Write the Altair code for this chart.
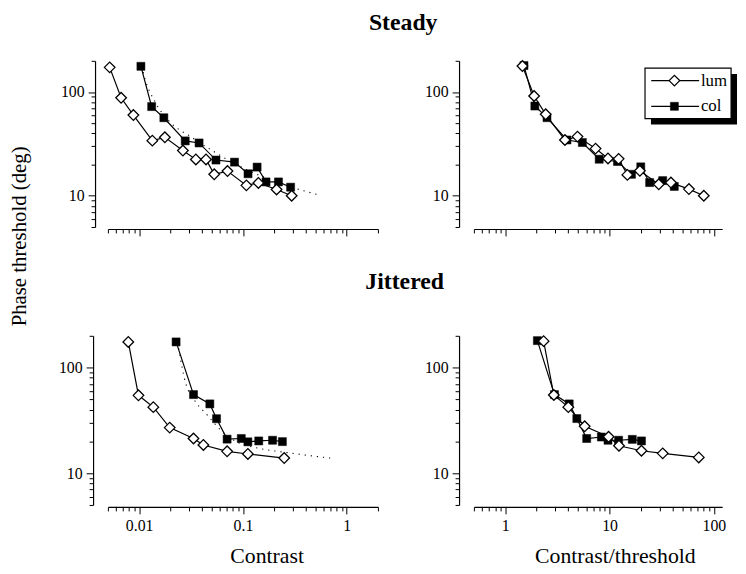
import altair as alt
import pandas as pd

# ---------------- data ----------------
# Steady, threshold vs contrast
lum_steady_c = [0.0052, 0.0067, 0.0088, 0.0134, 0.0177, 0.0264, 0.0352, 0.0441, 0.0529, 0.071, 0.108, 0.141, 0.211, 0.295]
lum_steady_p = [173, 88, 60, 34, 36.6, 27.3, 22.4, 22.4, 16.1, 17.3, 12.6, 13.3, 11.5, 10.0]
col_steady_c = [0.0104, 0.0132, 0.0173, 0.0278, 0.0378, 0.055, 0.083, 0.112, 0.137, 0.167, 0.220, 0.288]
col_steady_p = [177, 72.4, 56.5, 33.8, 32.3, 22.1, 21.1, 16.3, 18.9, 13.6, 13.6, 12.1]
fit_steady_c = [0.0106, 0.0112, 0.0144, 0.0193, 0.0322, 0.0537, 0.0964, 0.2, 0.557]
fit_steady_p = [178, 142, 79, 52.8, 36.6, 26.3, 18.9, 13.8, 10.1]

# Steady, threshold vs contrast/threshold
lum_steady_ct = [1.46, 1.89, 2.44, 3.73, 4.92, 7.33, 9.65, 12.2, 14.8, 19.5, 29.6, 38.7, 57.6, 80]
lum_steady_pt = [178, 91.6, 61, 34.5, 37.2, 28.5, 22.9, 22.7, 15.9, 17.4, 12.9, 13.4, 11.6, 10.0]
col_steady_ct = [1.51, 1.92, 2.51, 3.9, 5.48, 7.95, 11.9, 16.2, 19.9, 24.2, 32.3, 41.7]
col_steady_pt = [180, 73.3, 56.6, 34.5, 32.6, 22.5, 21.4, 16.1, 19.0, 13.4, 14.0, 12.3]

# Jittered, threshold vs contrast
lum_jit_c = [0.00786, 0.00985, 0.0137, 0.0197, 0.0334, 0.0416, 0.0704, 0.1116, 0.25]
lum_jit_p = [175, 54.6, 42.2, 27, 21.3, 18.5, 16.1, 15.2, 13.9]
col_jit_c = [0.0227, 0.0334, 0.048, 0.0557, 0.0704, 0.0964, 0.1116, 0.142, 0.193, 0.24]
col_jit_p = [175, 55.5, 45.3, 32.8, 21, 21.3, 19.8, 20.2, 20.5, 19.9]
fit_jit_c = [0.024, 0.0278, 0.0347, 0.0448, 0.0622, 0.0896, 0.139, 0.289, 0.694]
fit_jit_p = [152, 73.9, 48, 36, 25.1, 19.5, 17.3, 15.5, 13.9]

# Jittered, threshold vs contrast/threshold
lum_jit_ct = [2.33, 2.92, 4.02, 5.77, 9.78, 12.3, 20.2, 32.3, 71.6]
lum_jit_pt = [178, 55, 42.2, 27.8, 22.1, 18.2, 16.3, 15.4, 14.1]
col_jit_ct = [2.03, 2.96, 4.1, 4.85, 6.03, 8.34, 9.65, 12.2, 16.5, 20.2]
col_jit_pt = [180, 55.5, 45.3, 32.9, 21.3, 22, 20.5, 20.5, 20.9, 20.2]

# axes
contrast_domain = [0.005, 2]
ratio_domain = [0.5, 120]
phase_domain = [5, 200]
contrast_labels = [0.01, 0.1, 1]
ratio_labels = [1, 10, 100]
phase_labels = [10, 100]
legend_labels = ["lum", "col"]
row_titles = ["Steady", "Jittered"]
y_title = "Phase threshold (deg)"
x_titles = ["Contrast", "Contrast/threshold"]

FONT = "Liberation Serif"


def log_ticks(lo, hi):
    vals = []
    for e in range(-4, 4):
        for m in range(1, 10):
            v = round(m * 10.0 ** e, 8)
            if lo - 1e-12 <= v <= hi + 1e-12:
                vals.append(v)
    return vals


def make_axis(values, decades, show_labels, offset):
    test = "indexof([%s], datum.value) >= 0" % ",".join(repr(d) for d in decades)
    kw = dict(
        values=values, offset=offset, grid=False, title=None,
        domainColor="black", domainWidth=1.2, tickColor="black", tickWidth=1,
        tickSize={"condition": {"test": test, "value": 7}, "value": 4},
        labels=show_labels, labelFont=FONT, labelFontSize=16, labelColor="black",
        labelPadding=4, labelOverlap=False, labelFlush=False,
    )
    if show_labels:
        kw["labelExpr"] = "%s ? format(datum.value, '~g') : ''" % test
    return alt.Axis(**kw)


def one():
    return alt.Chart(pd.DataFrame({"k": [0]}))


def text_layer(txt, x, y, size, bold=False, angle=0, align="center", baseline="alphabetic"):
    kw = dict(text=txt, font=FONT, fontSize=size, color="black", align=align, baseline=baseline)
    if bold:
        kw["fontWeight"] = "bold"
    if angle:
        kw["angle"] = angle
    return one().mark_text(**kw).encode(x=alt.value(x), y=alt.value(y))


def panel(lum_x, lum_y, col_x, col_y, fit_x, fit_y, xdomain, xdecades,
          show_xlabels, yoffset, xoffset, width, height, extras):
    rows = []
    for s, xs, ys in (("fit", fit_x, fit_y), ("col", col_x, col_y), ("lum", lum_x, lum_y)):
        for i, (a, b) in enumerate(zip(xs, ys)):
            rows.append({"s": s, "i": i, "x": a, "y": b})
    df = pd.DataFrame(rows)
    x_enc = alt.X("x:Q", scale=alt.Scale(type="log", domain=xdomain, nice=False),
                  axis=make_axis(log_ticks(*xdomain), xdecades, show_xlabels, xoffset))
    y_enc = alt.Y("y:Q", scale=alt.Scale(type="log", domain=phase_domain, nice=False),
                  axis=make_axis(log_ticks(*phase_domain), phase_labels, True, yoffset))
    base = alt.Chart(df).encode(x=x_enc, y=y_enc, order="i:Q")
    layers = []
    if fit_x:
        layers.append(base.transform_filter("datum.s == 'fit'").mark_line(
            color="black", strokeWidth=1.1, strokeDash=[1.2, 5], interpolate="monotone"))
    layers.append(base.transform_filter("datum.s == 'col'").mark_line(color="black", strokeWidth=1.2))
    layers.append(base.transform_filter("datum.s == 'col'").mark_point(
        shape="square", filled=True, fill="black", stroke="black", strokeWidth=0.5, size=66, opacity=1))
    layers.append(base.transform_filter("datum.s == 'lum'").mark_line(color="black", strokeWidth=1.2))
    layers.append(base.transform_filter("datum.s == 'lum'").mark_point(
        shape="diamond", filled=True, fill="white", stroke="black", strokeWidth=1.3, size=115, opacity=1))
    layers += extras
    return alt.layer(*layers).properties(width=width, height=height)


tl_extras = [
    text_layer(row_titles[0], 298.5, -31.6, 24, bold=True),
    text_layer(y_title, -88.5, 177.5, 21, angle=270, baseline="middle"),
]

legend = [
    one().mark_rect(fill="black").encode(x=alt.value(179), x2=alt.value(266), y=alt.value(13.4), y2=alt.value(64.4)),
    one().mark_rect(fill="white", stroke="black", strokeWidth=1.2).encode(
        x=alt.value(173), x2=alt.value(260), y=alt.value(7.4), y2=alt.value(58.4)),
    one().mark_rule(color="black", strokeWidth=1.2).encode(x=alt.value(179.3), x2=alt.value(227.7), y=alt.value(20)),
    one().mark_rule(color="black", strokeWidth=1.2).encode(x=alt.value(179.3), x2=alt.value(227.7), y=alt.value(46)),
    one().mark_point(shape="diamond", filled=True, fill="white", stroke="black", strokeWidth=1.3,
                     size=115, opacity=1).encode(x=alt.value(202.7), y=alt.value(20)),
    one().mark_point(shape="square", filled=True, fill="black", stroke="black", strokeWidth=0.5,
                     size=66, opacity=1).encode(x=alt.value(202.7), y=alt.value(46)),
    text_layer(legend_labels[0], 229.5, 20, 17, align="left", baseline="middle"),
    text_layer(legend_labels[1], 229.5, 46, 17, align="left", baseline="middle"),
]

bl_extras = [
    text_layer(row_titles[1], 300, -47.3, 24, bold=True),
    text_layer(x_titles[0], 161, 229.5, 22),
]
br_extras = [
    text_layer(x_titles[1], 143, 229.5, 22),
]

tl = panel(lum_steady_c, lum_steady_p, col_steady_c, col_steady_p, fit_steady_c, fit_steady_p,
           contrast_domain, contrast_labels, False, 13, 2, 273, 168, tl_extras)
tr = panel(lum_steady_ct, lum_steady_pt, col_steady_ct, col_steady_pt, [], [],
           ratio_domain, ratio_labels, False, 15, 2, 251, 168, legend)
bl = panel(lum_jit_c, lum_jit_p, col_jit_c, col_jit_p, fit_jit_c, fit_jit_p,
           contrast_domain, contrast_labels, True, 15, 2, 273, 171, bl_extras)
br = panel(lum_jit_ct, lum_jit_pt, col_jit_ct, col_jit_pt, [], [],
           ratio_domain, ratio_labels, True, 15, 2, 251, 171, br_extras)

chart = alt.concat(
    tl, tr, bl, br, columns=2, spacing={"row": 110, "column": 97},
    bounds="flush", align="each",
).properties(
    autosize=alt.AutoSizeParams(type="none"),
    padding={"left": 101, "top": 50.3, "right": 637, "bottom": 514.7},
    background="white",
).configure_view(stroke=None)

chart.save("out.html", embed_options={"renderer": "svg", "actions": False})
